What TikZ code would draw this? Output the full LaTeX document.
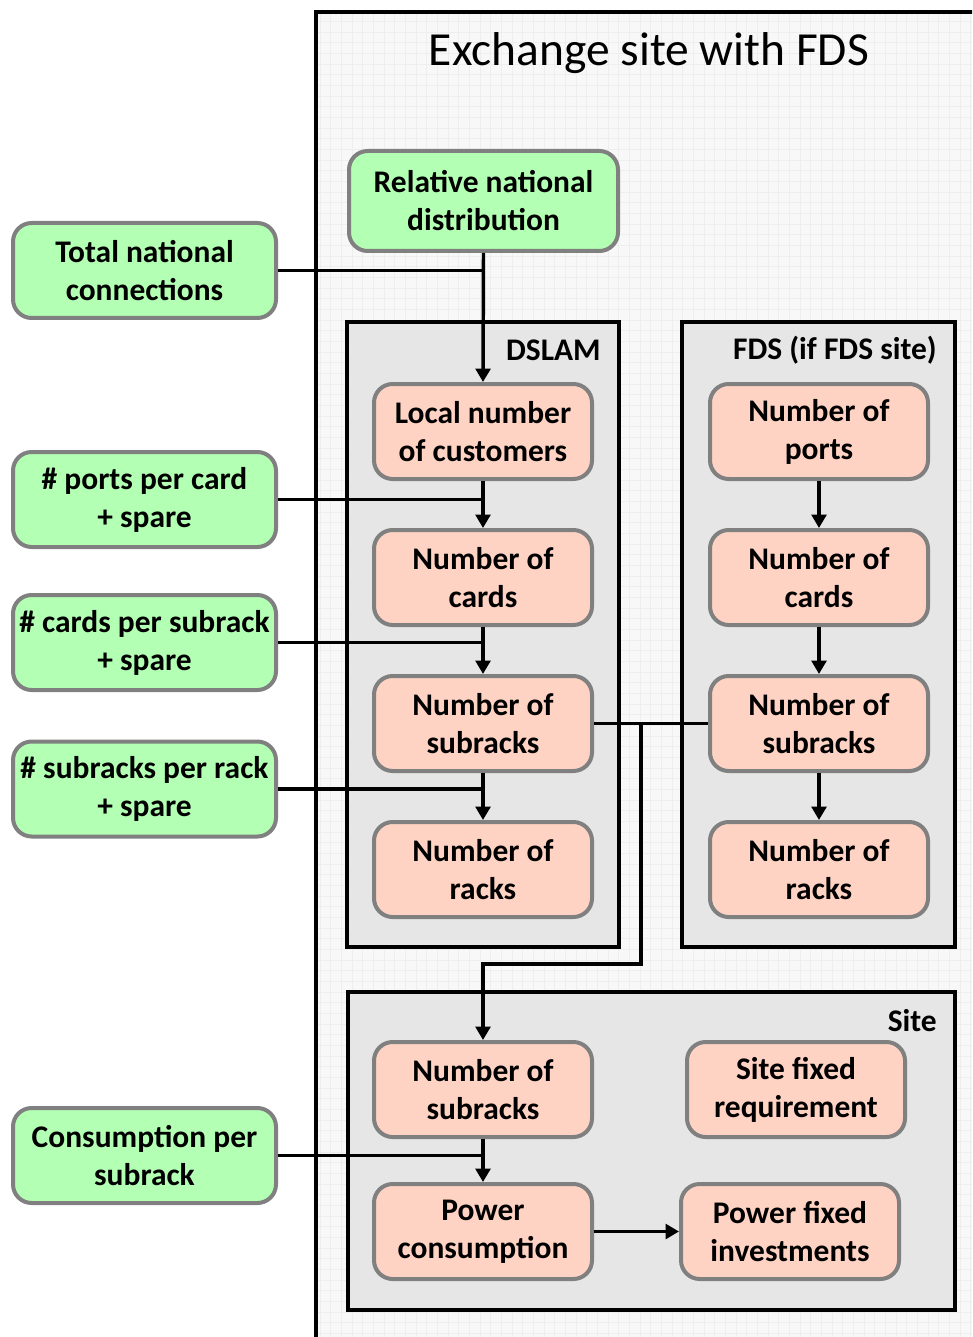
\documentclass[tikz,border=0pt]{standalone}
\usepackage{fontspec}
\setmainfont{Carlito}
\usetikzlibrary{arrows.meta,calc}
\definecolor{gfill}{HTML}{B3FFB3}
\definecolor{pfill}{HTML}{FFD3C3}
\definecolor{bord}{HTML}{808080}
\definecolor{cfill}{HTML}{E6E6E6}
\definecolor{bgfill}{HTML}{F8F8F8}
\definecolor{gridc}{HTML}{EEEEEE}
\begin{document}
\begin{tikzpicture}[x=0.75pt,y=-0.75pt,
 box/.style={draw=bord, line width=3pt, rounded corners=14pt, align=center, font=\bfseries\fontsize{23.6pt}{28.5pt}\selectfont, inner sep=0pt},
 gbox/.style={box, fill=gfill, minimum width=197.25pt, minimum height=71.25pt},
 pbox/.style={box, fill=pfill, minimum width=163.5pt, minimum height=71.25pt},
 cont/.style={draw=black, line width=3pt, fill=cfill},
 lbl/.style={font=\bfseries\fontsize{23.6pt}{28.5pt}\selectfont, inner sep=0pt, anchor=east},
 line/.style={draw=black, line width=2.6pt},
 conn/.style={line, -{Triangle[length=10pt,width=11pt]}}
]
\useasboundingbox (0,0) rectangle (972,1337);
\fill[white] (0,0) rectangle (972,1337);
% outer exchange site frame
\begin{scope}
  \clip (0,0) rectangle (972,1337);
  \fill[bgfill] (316,12) rectangle (990,1360);
  \begin{scope}
    \clip (316,12) rectangle (990,1360);
    \draw[gridc, line width=0.4pt, step=8pt] (316,12) grid (990,1360);
  \end{scope}
  \draw[line width=3pt] (316,1360) -- (316,12) -- (990,12);
\end{scope}
\node[font=\fontsize{35.6pt}{40pt}\selectfont, inner sep=0pt] (title) at (649,53) {Exchange site with FDS};

% containers
\draw[cont] (347,322) rectangle (619,947);
\draw[cont] (682,322) rectangle (955,947);
\draw[cont] (348,992) rectangle (955,1310);
\node[lbl] (dslamlbl) at (601,350) {DSLAM};
\node[lbl] (fdslbl) at (937,350) {FDS (if FDS site)};
\node[lbl] (sitelbl) at (937,1021) {Site};

% green input boxes
\node[gbox, minimum width=201.75pt, minimum height=75pt] (reln) at (483.5,201) {Relative national\\distribution};
\node[gbox] (tnc) at (144.5,270.5) {Total national\\connections};
\node[gbox] (ppc) at (144.5,499.5) {\# ports per card\\+ spare};
\node[gbox] (cps) at (144.5,642.5) {\# cards per subrack\\+ spare};
\node[gbox] (spr) at (144.5,789) {\# subracks per rack\\+ spare};
\node[gbox] (cons) at (144.5,1155.5) {Consumption per\\subrack};

% DSLAM column
\node[pbox] (dloc) at (483,431.5) {Local number\\of customers};
\node[pbox] (dcard) at (483,577.5) {Number of\\cards};
\node[pbox] (dsub) at (483,723.5) {Number of\\subracks};
\node[pbox] (drack) at (483,869.5) {Number of\\racks};

% FDS column
\node[pbox] (fport) at (819,431.5) {Number of\\ports};
\node[pbox] (fcard) at (819,577.5) {Number of\\cards};
\node[pbox] (fsub) at (819,723.5) {Number of\\subracks};
\node[pbox] (frack) at (819,869.5) {Number of\\racks};

% Site
\node[pbox] (ssub) at (483,1089.5) {Number of\\subracks};
\node[pbox] (sfix) at (796,1089.5) {Site fixed\\requirement};
\node[pbox] (pcons) at (483,1231.5) {Power\\consumption};
\node[pbox] (pfix) at (790,1231.5) {Power fixed\\investments};

% connectors
\draw[conn] (reln.south) -- (dloc.north);
\draw[line] (tnc.east) -- (tnc.east -| reln.south);
\draw[conn] (dloc.south) -- (dcard.north);
\draw[line] (ppc.east) -- (ppc.east -| dloc.south);
\draw[conn] (dcard.south) -- (dsub.north);
\draw[line] (cps.east) -- (cps.east -| dcard.south);
\draw[conn] (dsub.south) -- (drack.north);
\draw[line] (spr.east) -- (spr.east -| dsub.south);

\draw[conn] (fport.south) -- (fcard.north);
\draw[conn] (fcard.south) -- (fsub.north);
\draw[conn] (fsub.south) -- (frack.north);

\draw[line] (dsub.east) -- (fsub.west);
\coordinate (bend) at (641,964);
\draw[conn] (dsub.east -| bend) -- (bend) -| (ssub.north);

\draw[conn] (ssub.south) -- (pcons.north);
\draw[line] (cons.east) -- (cons.east -| ssub.south);
\draw[conn] (pcons.east) -- (pfix.west);
\end{tikzpicture}
\end{document}
